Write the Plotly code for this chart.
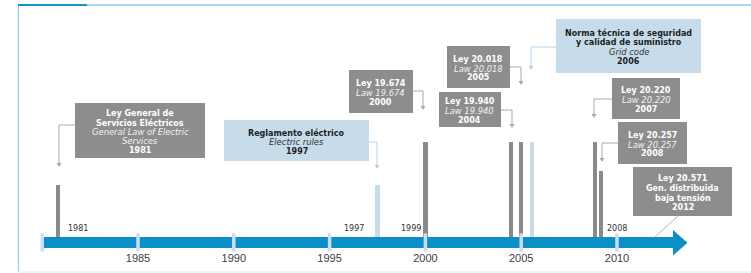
import plotly.graph_objects as go

# ---------------- data ----------------
axis_years = [1985, 1990, 1995, 2000, 2005, 2010]
tick_mark_years = [1980, 1985, 1990, 1995, 2000, 2005, 2010]

# positions of the event bars on the timeline (years, as read) and their heights
bar_positions = [1980.82, 1997.5, 2000.0, 2004.47, 2004.99, 2005.56, 2008.85, 2009.16]
bar_heights = [52, 52, 95, 95, 95, 95, 95, 66]
bar_kinds = ["ley", "norma", "ley", "ley", "ley", "norma", "ley", "ley"]

side_labels = ["1981", "1997", "1999", "2008"]

law_names = [
    "Ley General de<br>Servicios Eléctricos",
    "Reglamento eléctrico",
    "Ley 19.674",
    "Ley 19.940",
    "Ley 20.018",
    "Norma técnica de seguridad<br>y calidad de suministro",
    "Ley 20.220",
    "Ley 20.257",
    "Ley 20.571<br>Gen. distribuida<br>baja tensión",
]
law_names_en = [
    "General Law of Electric<br>Services",
    "Electric rules",
    "Law 19.674",
    "Law 19.940",
    "Law 20.018",
    "Grid code",
    "Law 20.220",
    "Law 20.257",
    "",
]
law_years = ["1981", "1997", "2000", "2004", "2005", "2006", "2007", "2008", "2012"]
law_kinds = ["ley", "norma", "ley", "ley", "ley", "norma", "ley", "ley", "ley"]

# ---------------- layout geometry (pixels) ----------------
W, H = 751, 273
MB = 23
PH = H - MB
PX_PER_YEAR = 19.16
X0_YEAR = 1980 - 42.2 / PX_PER_YEAR
X1_YEAR = X0_YEAR + W / PX_PER_YEAR
AXIS_TOP = 237  # pixel row of the top of the timeline band

box_rects = [
    (75, 103, 205, 158),
    (224, 120, 369, 161),
    (349, 70, 413, 113),
    (439, 92, 501, 127),
    (447, 46, 510, 88),
    (556, 19, 701, 73),
    (612, 78, 680, 119),
    (618, 122, 687, 164),
    (633, 167, 732, 216),
]
# connectors: (start x, y, bend x, arrow tip y)
connectors = [
    (75, 125, 59, 167),
    (369, 142, 377, 169),
    (413, 91, 423, 110),
    (501, 110, 512, 128),
    (510, 67, 521, 85),
    (556, 47, 531, 70),
    (612, 99, 594, 118),
    (618, 143, 602, 162),
    None,
]
side_label_pos = [(78, 228), (354, 228), (411, 228), (617, 228)]

GRAY_BOX = "#8d8d8d"
BLUE_BOX = "#c6dcea"
GRAY_BAR = "#8a8a8a"
BLUE_BAR = "#c6dcea"
BAND = "#0a8fc6"
TICKMARK = "#c9dff0"
CONN_GRAY = "#a9a9a9"
CONN_BLUE = "#b3d4e8"
FONT = "DejaVu Sans, Arial, sans-serif"
AXFONT = "Liberation Sans, Arial, sans-serif"


def px(x):
    return x / W


def py(y):
    return (PH - y) / PH


fig = go.Figure()

# vertical event bars
fig.add_trace(go.Bar(
    x=bar_positions,
    y=bar_heights,
    base=0,
    width=0.22,
    marker=dict(color=[GRAY_BAR if k == "ley" else BLUE_BAR for k in bar_kinds], line=dict(width=0)),
    hoverinfo="skip",
    showlegend=False,
))

# tick marks on the timeline band
fig.add_trace(go.Scatter(
    x=tick_mark_years,
    y=[-5.5] * len(tick_mark_years),
    mode="markers",
    marker=dict(symbol="line-ns", size=13, line=dict(width=3.5, color=TICKMARK)),
    hoverinfo="skip",
    showlegend=False,
    cliponaxis=False,
))

shapes = []
annotations = []


def yr2px(yr):
    return (yr - X0_YEAR) * PX_PER_YEAR


# timeline band with arrow head
x_start = yr2px(1980) + 1
path = "M {a},{b} L {c},{b} L {c},{d} L {e},{f} L {c},{g} L {c},{h} L {a},{h} Z".format(
    a=px(x_start), b=py(237), c=px(673), d=py(230), e=px(687.5), f=py(242.7), g=py(255.5), h=py(248))
shapes.append(dict(type="path", xref="paper", yref="paper", path=path,
                   fillcolor=BAND, line=dict(width=0), layer="below"))

# frame
shapes.append(dict(type="line", xref="paper", yref="paper", x0=px(18), x1=px(87), y0=py(5), y1=py(5),
                   line=dict(color="#1890c8", width=2.2)))
shapes.append(dict(type="line", xref="paper", yref="paper", x0=px(87), x1=px(751), y0=py(5), y1=py(5),
                   line=dict(color="#a9d8ee", width=2.2)))
shapes.append(dict(type="line", xref="paper", yref="paper", x0=px(18.5), x1=px(18.5), y0=py(6), y1=py(272),
                   line=dict(color="#8fcfee", width=1.2)))
shapes.append(dict(type="line", xref="paper", yref="paper", x0=px(18), x1=px(751), y0=py(272), y1=py(272),
                   line=dict(color="#d6eef9", width=1.2)))

# boxes, texts and connectors
for i, (x0, y0, x1, y1) in enumerate(box_rects):
    is_ley = law_kinds[i] == "ley"
    shapes.append(dict(type="rect", xref="paper", yref="paper", x0=px(x0), x1=px(x1), y0=py(y0), y1=py(y1),
                       fillcolor=GRAY_BOX if is_ley else BLUE_BOX, line=dict(width=0)))
    lines = [("<b>%s</b>" % t) for t in law_names[i].split("<br>")]
    if law_names_en[i]:
        lines += [("<i>%s</i>" % t) for t in law_names_en[i].split("<br>")]
    lines.append("<b>%s</b>" % law_years[i])
    n = len(lines)
    spacing = 9.4
    cx = (x0 + x1) / 2
    cy = (y0 + y1) / 2 + 1.5
    col_main = "#ffffff" if is_ley else "#1e1e1e"
    col_it = "#f2f2f2" if is_ley else "#333333"
    for j, t in enumerate(lines):
        yy = cy + (j - (n - 1) / 2) * spacing
        italic = t.startswith("<i>")
        annotations.append(dict(
            x=px(cx), y=py(yy), xref="paper", yref="paper", text=t, showarrow=False,
            xanchor="center", yanchor="middle",
            font=dict(family=FONT, size=8.4 if italic else 8, color=col_it if italic else col_main),
        ))
    c = connectors[i]
    if c is not None:
        sx, sy, bx, ty = c
        ccol = CONN_GRAY if is_ley else CONN_BLUE
        shapes.append(dict(type="path", xref="paper", yref="paper",
                           path="M {},{} L {},{} L {},{}".format(px(sx), py(sy), px(bx), py(sy), px(bx), py(ty - 3)),
                           line=dict(color=ccol, width=1)))
        shapes.append(dict(type="path", xref="paper", yref="paper",
                           path="M {},{} L {},{} L {},{} Z".format(px(bx - 2.5), py(ty - 4), px(bx + 2.5), py(ty - 4),
                                                                  px(bx), py(ty)),
                           fillcolor=ccol, line=dict(width=0)))

# diagonal connector for the last box
shapes.append(dict(type="line", xref="paper", yref="paper", x0=px(678), y0=py(216), x1=px(655), y1=py(237),
                   line=dict(color="#b5b5b5", width=1)))

# small year labels beside the bars
for t, (x, y) in zip(side_labels, side_label_pos):
    annotations.append(dict(x=px(x), y=py(y), xref="paper", yref="paper", text=t, showarrow=False,
                            xanchor="center", yanchor="middle",
                            font=dict(family=FONT, size=8, color="#333333")))

fig.update_layout(
    width=W, height=H,
    margin=dict(l=0, r=0, t=0, b=MB),
    paper_bgcolor="white", plot_bgcolor="white",
    shapes=shapes, annotations=annotations,
    bargap=0,
    xaxis=dict(range=[X0_YEAR, X1_YEAR], tickvals=axis_years, ticktext=[str(v) for v in axis_years],
               showgrid=False, zeroline=False, showline=False, ticks="",
               tickfont=dict(family=AXFONT, size=11, color="#3c3c3c"), fixedrange=True),
    yaxis=dict(range=[AXIS_TOP - PH, AXIS_TOP], visible=False, fixedrange=True),
    showlegend=False,
)

fig.write_html("out.html", config={"displayModeBar": False},
               post_script="document.body.style.margin='0px';document.body.style.overflow='hidden';")
